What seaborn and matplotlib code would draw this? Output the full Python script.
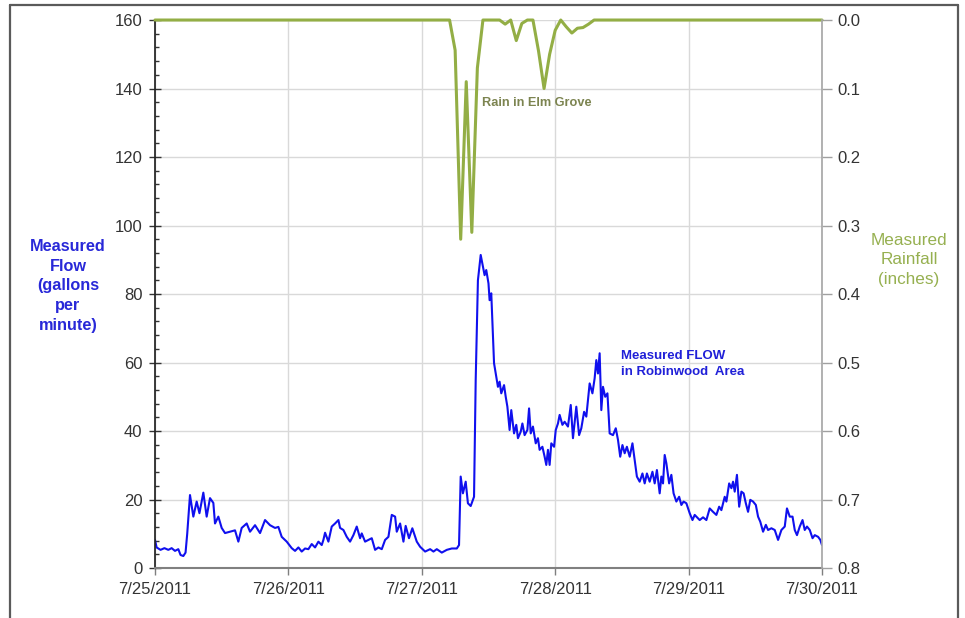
import numpy as np
import pandas as pd
import matplotlib
matplotlib.use('Agg')
import matplotlib.pyplot as plt
import matplotlib.dates as mdates
from matplotlib.ticker import MultipleLocator, FuncFormatter
from matplotlib.lines import Line2D
import seaborn as sns

# hours after 7/25/2011 00:00
flow_hours = [0.0, 0.3, 1.0, 1.7, 2.4, 3.0, 3.6, 4.2, 4.6, 5.1, 5.5, 5.8, 6.3, 6.9, 7.5, 8.0,
              8.7, 9.3, 9.9, 10.5, 10.8, 11.4, 12.0, 12.6, 13.5, 14.4, 15.0, 15.6, 16.5, 17.1,
              18.0, 18.9, 19.8, 20.7, 21.6, 22.2, 22.8, 23.7, 24.6, 25.2, 25.8, 26.4, 27.0,
              27.6, 28.2, 28.8, 29.4, 30.0, 30.3, 30.6, 31.2, 31.8, 32.4, 33.0, 33.3, 33.9,
              34.5, 35.1, 35.7, 36.3, 36.9, 37.2, 37.8, 38.4, 39.0, 39.6, 40.2, 40.8, 41.4,
              42.0, 42.6, 43.2, 43.5, 44.1, 44.7, 45.1, 45.7, 46.3, 47.1, 47.7, 48.6, 49.5,
              50.1, 50.7, 51.6, 52.5, 53.4, 54.3, 54.7, 55.0, 55.4, 55.9, 56.3, 56.8, 57.4,
              57.7, 58.1, 58.6, 59.0, 59.3, 59.6, 60.0, 60.2, 60.5, 61.0, 61.3, 61.7, 62.0,
              62.3, 62.8, 63.1, 63.4, 63.8, 64.1, 64.6, 65.0, 65.3, 65.8, 66.1, 66.5, 67.0,
              67.3, 67.6, 68.0, 68.5, 68.9, 69.2, 69.7, 70.1, 70.4, 70.7, 71.0, 71.3, 71.8,
              72.1, 72.5, 72.8, 73.3, 73.7, 74.3, 74.8, 75.2, 75.8, 76.3, 76.7, 77.2, 77.6,
              78.2, 78.7, 79.1, 79.4, 79.7, 80.0, 80.3, 80.6, 81.0, 81.4, 81.8, 82.4, 82.9,
              83.3, 83.7, 84.1, 84.5, 84.9, 85.4, 85.9, 86.3, 86.7, 87.2, 87.7, 88.1, 88.5,
              89.0, 89.5, 89.9, 90.3, 90.8, 91.1, 91.4, 91.7, 92.0, 92.5, 92.9, 93.3, 93.8,
              94.3, 94.7, 95.1, 95.6, 96.2, 96.7, 97.1, 97.7, 98.0, 98.6, 99.2, 99.8, 100.4,
              101.0, 101.5, 101.9, 102.5, 102.8, 103.3, 103.7, 104.0, 104.3, 104.7, 105.1,
              105.5, 105.9, 106.3, 106.7, 107.1, 107.6, 108.1, 108.5, 108.9, 109.4, 109.9,
              110.3, 110.9, 111.5, 112.1, 112.7, 113.3, 113.7, 114.2, 114.7, 115.1, 115.5,
              116.0, 116.5, 116.9, 117.3, 117.8, 118.3, 118.7, 119.3, 119.7, 120.0]
flow_gpm = [8.2, 6.0, 5.3, 5.8, 5.3, 5.8, 5.0, 5.5, 3.8, 3.5, 4.5, 10.0, 21.3, 15.0, 19.4, 16.0,
            22.0, 15.0, 20.4, 19.0, 13.0, 15.0, 11.7, 10.2, 10.6, 11.0, 7.7, 11.7, 13.0, 10.6,
            12.5, 10.2, 14.0, 12.5, 11.7, 12.0, 9.1, 7.7, 5.8, 5.0, 6.0, 4.8, 5.7,
            5.5, 7.0, 6.0, 7.7, 6.7, 8.2, 10.3, 7.7, 12.1, 13.0, 14.0, 11.7, 11.1,
            9.1, 7.7, 9.6, 12.1, 8.7, 10.1, 7.7, 8.2, 8.7, 5.3, 6.0, 5.5, 8.2,
            9.1, 15.5, 15.0, 10.6, 13.0, 7.7, 12.3, 8.7, 11.6, 7.7, 6.2, 4.8, 5.5,
            4.8, 5.5, 4.5, 5.3, 5.7, 5.7, 6.7, 26.7, 21.8, 25.2, 18.9, 18.1, 20.8,
            54.9, 84.0, 91.4, 88.0, 85.5, 87.0, 83.1, 78.2, 80.2, 59.8, 56.8, 52.9, 54.4,
            51.0, 53.4, 50.0, 47.1, 40.3, 46.1, 39.3, 41.8, 37.9, 39.8, 42.2, 38.8, 40.3,
            46.6, 39.3, 41.3, 36.4, 37.9, 34.5, 35.4, 32.5, 30.1, 34.5, 30.1, 36.4, 35.4,
            40.3, 42.2, 44.7, 41.8, 42.7, 41.3, 47.6, 37.9, 47.1, 38.8, 40.8, 45.6, 44.2,
            53.9, 51.0, 55.4, 60.7, 56.8, 62.7, 46.1, 52.9, 50.0, 51.0, 39.3, 38.8, 40.8,
            37.4, 32.5, 35.9, 33.5, 35.4, 32.5, 36.4, 31.5, 26.7, 25.2, 27.6, 24.7, 27.6,
            25.2, 28.1, 24.7, 28.6, 21.8, 26.7, 24.7, 33.0, 30.6, 24.7, 27.2, 21.8, 19.4,
            20.8, 18.4, 19.4, 18.9, 16.0, 14.0, 15.5, 14.5, 14.0, 14.8, 14.0, 17.4, 16.4,
            15.5, 17.9, 16.9, 20.8, 19.4, 24.7, 23.3, 25.2, 22.3, 27.2, 17.9,
            22.3, 21.8, 18.9, 16.4, 19.9, 19.4, 18.4, 15.0, 13.5, 10.6, 12.6,
            11.1, 11.6, 11.1, 8.2, 11.1, 12.1, 17.4, 15.0, 15.0, 11.1, 9.6,
            12.1, 14.0, 11.1, 12.1, 11.1, 8.7, 9.6, 9.1, 8.2, 6.7]

rain_hours = [0, 53, 54, 55, 56, 57, 58, 59, 60, 61, 62, 63, 64, 65, 66, 67, 68, 69, 70,
              71, 72, 73, 74, 75, 76, 77, 78, 79, 120]
rain_in = [0, 0, 0.044, 0.32, 0.09, 0.31, 0.07, 0, 0, 0, 0, 0.006, 0, 0.03, 0.005, 0, 0,
           0.045, 0.10, 0.05, 0.015, 0, 0.01, 0.019, 0.012, 0.011, 0.006, 0, 0]

start = pd.Timestamp('2011-07-25')
flow_df = pd.DataFrame({'time': start + pd.to_timedelta(flow_hours, unit='h'), 'flow': flow_gpm})
rain_df = pd.DataFrame({'time': start + pd.to_timedelta(rain_hours, unit='h'), 'rain': rain_in})

sns.set_theme(style='white')
plt.rcParams['font.family'] = ['Liberation Sans', 'DejaVu Sans']

blue = '#1010ee'
green = '#93ae45'
fig = plt.figure(figsize=(9.65, 6.18), dpi=100)
ax = fig.add_axes([0.1606, 0.0809, 0.6912, 0.8867])

sns.lineplot(data=flow_df, x='time', y='flow', ax=ax, color=blue, lw=1.5)
ax.set_xlim(start, start + pd.Timedelta(days=5))
ax.set_ylim(0, 160)
ax.yaxis.set_major_locator(MultipleLocator(20))
ax.yaxis.set_minor_locator(MultipleLocator(4))
ax.xaxis.set_major_locator(mdates.DayLocator())


def fmt_date(v, pos):
    d = mdates.num2date(v)
    return f"{d.month}/{d.day}/{d.year}"


ax.xaxis.set_major_formatter(FuncFormatter(fmt_date))
ax.grid(True, which='major', color='#d9d9d9', lw=1)
ax.set_xlabel('')
ax.set_ylabel('')
ax.tick_params(axis='y', which='major', direction='inout', length=8, width=1, color='#333333',
               labelsize=12, labelcolor='#333333', pad=5, left=True)
ax.tick_params(axis='y', which='minor', direction='in', length=3, width=1, color='#333333', left=True)
ax.tick_params(axis='x', which='major', direction='out', length=5, width=1, color='#7f7f7f',
               labelsize=12, labelcolor='#333333', pad=5, bottom=True)
ax.spines['top'].set_visible(False)
ax.spines['right'].set_visible(False)
ax.spines['left'].set_color('#222222')
ax.spines['bottom'].set_color('#808080')
ax.spines['bottom'].set_linewidth(1.5)

ax2 = ax.twinx()
sns.lineplot(data=rain_df, x='time', y='rain', ax=ax2, color=green, lw=2.2, clip_on=False)
ax2.set_ylim(0.8, 0)
ax2.set_yticks(np.arange(0, 0.81, 0.1))
ax2.yaxis.set_major_formatter(FuncFormatter(lambda v, p: f"{v:.1f}"))
ax2.set_ylabel('')
ax2.set_xlabel('')
ax2.tick_params(axis='y', direction='out', length=7, width=1, color='#a0a0a0',
                labelsize=12, labelcolor='#333333', pad=4, right=True)
for s in ['top', 'left', 'bottom']:
    ax2.spines[s].set_visible(False)
ax2.spines['right'].set_color('#a8a8a8')
ax2.set_xlim(start, start + pd.Timedelta(days=5))

ax.text(start + pd.Timedelta(hours=58.8), 135.8, 'Rain in Elm Grove', color='#7c8450',
        fontsize=9.2, fontweight='bold', va='center', ha='left')
ax.text(start + pd.Timedelta(hours=83.9), 59.5, 'Measured FLOW\nin Robinwood  Area', color='#2020d8',
        fontsize=9.5, fontweight='bold', va='center', ha='left', linespacing=1.4)

fig.text(68 / 965, 1 - 286 / 618, 'Measured\nFlow\n(gallons\nper\nminute)', color='#2828d8',
         fontsize=11.7, fontweight='bold', ha='center', va='center', multialignment='center',
         linespacing=1.38)
fig.text(909 / 965, 1 - 260 / 618, 'Measured\nRainfall\n(inches)', color='#96b050',
         fontsize=12.3, ha='center', va='center', multialignment='center', linespacing=1.36)

# outer frame
fc = '#5a5a5a'
fig.add_artist(Line2D([0.0104, 0.0104], [0, 0.992], transform=fig.transFigure, color=fc, lw=1.6))
fig.add_artist(Line2D([0.9927, 0.9927], [0, 0.992], transform=fig.transFigure, color=fc, lw=1.6))
fig.add_artist(Line2D([0.0104, 0.9927], [0.992, 0.992], transform=fig.transFigure, color=fc, lw=1.6))

fig.savefig('out.png', dpi=100)
